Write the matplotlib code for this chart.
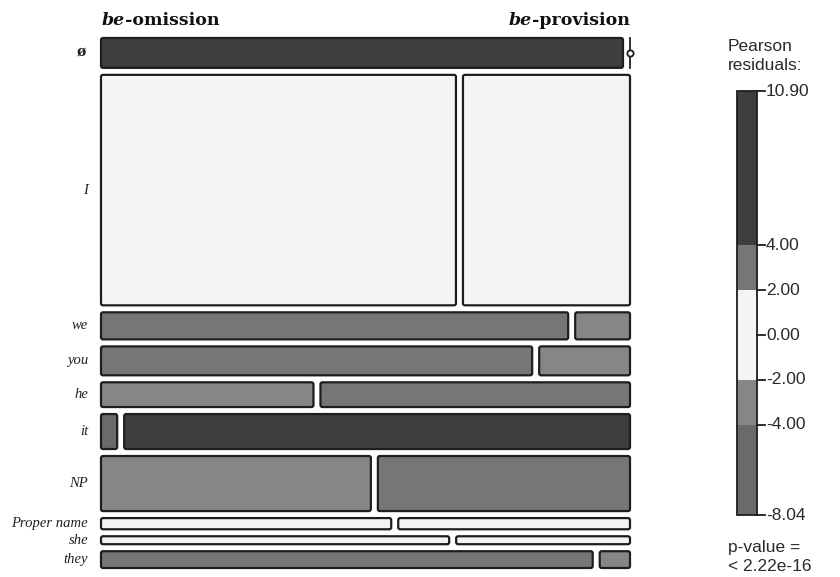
import numpy as np
import matplotlib
matplotlib.use("Agg")
import matplotlib.pyplot as plt
from matplotlib.patches import FancyBboxPatch, Rectangle

# subject type x be-realisation, mosaic with Pearson residual shading
subjects = ["ø", "I", "we", "you", "he", "it", "NP", "Proper name", "she", "they"]
columns = ["be-omission", "be-provision"]
row_share = [6.4, 49.4, 5.8, 6.2, 5.3, 7.5, 11.8, 2.4, 1.7, 3.6]          # % of tokens
omission_frac = [1.0, 0.680, 0.895, 0.826, 0.407, 0.031, 0.517, 0.556, 0.667, 0.942]
residuals = [
    [5.2, -7.3],
    [0.9, -1.3],
    [2.4, -3.2],
    [2.1, -2.8],
    [-2.9, 3.9],
    [-8.04, 10.90],
    [-2.6, 3.5],
    [-0.9, 1.2],
    [0.1, -0.2],
    [2.3, -3.1],
]
breaks = [-8.04, -4, -2, 2, 4, 10.90]
shades = ["#6a6a6a", "#868686", "#f4f4f4", "#767676", "#3e3e3e"]
p_text = "p-value =\n< 2.22e-16"


def shade(r):
    for lo, hi, c in zip(breaks[:-1], breaks[1:], shades):
        if r <= hi:
            return c
    return shades[-1]


W, H = 840, 577
fig = plt.figure(figsize=(W / 100, H / 100), dpi=100)
ax = fig.add_axes([0, 0, 1, 1])
ax.set_xlim(0, W)
ax.set_ylim(H, 0)
ax.axis("off")

# mosaic frame in pixel units
x0, x1, y0, y1, gap = 101, 630, 38, 568, 7
edge = "#1e1e1e"
avail_h = (y1 - y0) - gap * (len(subjects) - 1)
avail_w = (x1 - x0) - gap
heights = np.array(row_share) / np.sum(row_share) * avail_h

serif = "Liberation Serif"
head = "DejaVu Serif"
y = y0
for name, h, f, res in zip(subjects, heights, omission_frac, residuals):
    widths = [avail_w * f, avail_w * (1 - f)]
    x = x0
    for w, r in zip(widths, res):
        if w < 0.5:
            ax.plot([x, x], [y, y + h], color=edge, lw=1.3, zorder=3)
            ax.plot(x, y + h / 2, "o", ms=4.5, mfc="white", mec=edge, mew=1.3, zorder=4)
        else:
            ax.add_patch(FancyBboxPatch((x, y), w, h,
                                        boxstyle="round,pad=0,rounding_size=2",
                                        fc=shade(r), ec=edge, lw=1.6, zorder=2))
        x += w + gap
    if name == "ø":
        ax.text(86, y + h / 2, name, ha="right", va="center", fontsize=10,
                family=head, weight="bold", color="#222222")
    else:
        ax.text(88, y + h / 2, name, ha="right", va="center", fontsize=10.5,
                family=serif, style="italic", color="#222222")
    y += h + gap

# column headers: italic "be" + bold remainder
hy = 25
t1 = ax.text(x0 + 1, hy, "be", fontsize=12.5, family=head, style="italic",
             weight="bold", ha="left", va="baseline", color="#111111")
ax.annotate("-omission", xy=(1, 0), xycoords=t1, fontsize=12.5, family=head,
            weight="bold", ha="left", va="bottom", color="#111111")
t2 = ax.text(x1, hy, "-provision", fontsize=12.5, family=head, weight="bold",
             ha="right", va="baseline", color="#111111")
ax.annotate("be", xy=(0, 0), xycoords=t2, fontsize=12.5, family=head,
            style="italic", weight="bold", ha="right", va="bottom", color="#111111")

# legend colour bar
sans = "Liberation Sans"
lx0, lx1, ly_top, ly_bot = 737, 757, 91, 515
vmax, vmin = breaks[-1], breaks[0]


def vy(v):
    return ly_top + (vmax - v) * (ly_bot - ly_top) / (vmax - vmin)


for lo, hi, c in zip(breaks[:-1], breaks[1:], shades):
    ax.add_patch(Rectangle((lx0, vy(hi)), lx1 - lx0, vy(lo) - vy(hi), fc=c, ec="none"))
ax.add_patch(Rectangle((lx0, ly_top), lx1 - lx0, ly_bot - ly_top, fc="none",
                       ec=edge, lw=1.3))
tick_vals = [10.90, 4, 2, 0, -2, -4, -8.04]
for v in tick_vals:
    ax.plot([lx1, lx1 + 8], [vy(v), vy(v)], color=edge, lw=1.3)
    ax.text(lx1 + 9, vy(v), f"{v:.2f}", fontsize=12.5, family=sans, ha="left",
            va="center", color="#2a2a2a")
ax.text(728, 56, "Pearson\nresiduals:", fontsize=12.5, family=sans, ha="left",
        va="center", linespacing=1.35, color="#2a2a2a")
ax.text(728, 557, p_text, fontsize=12.5, family=sans, ha="left", va="center",
        linespacing=1.35, color="#2a2a2a")

fig.savefig("out.png", dpi=100)
